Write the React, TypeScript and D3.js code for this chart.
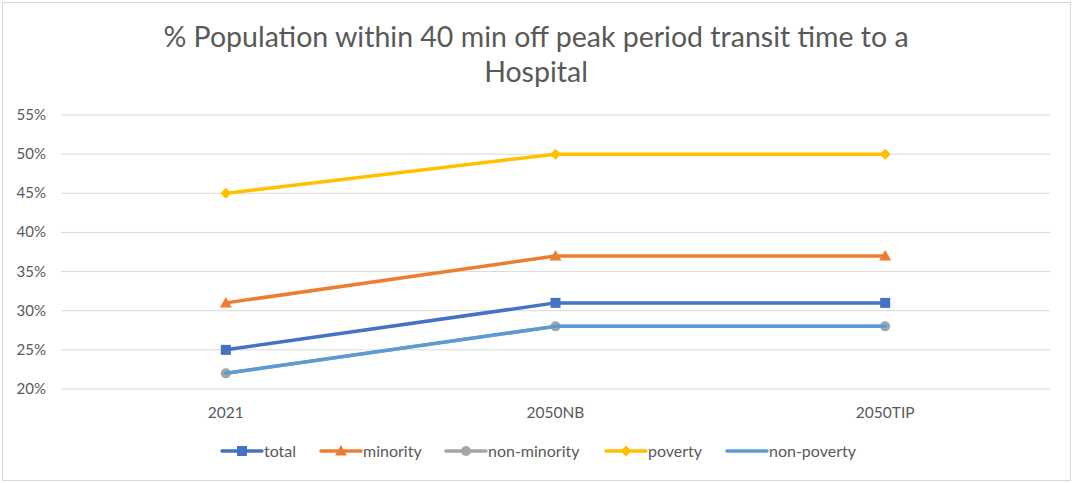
import React from "react";
import * as d3 from "d3";

const categories = ["2021", "2050NB", "2050TIP"];
const seriesNames = ["total", "minority", "non-minority", "poverty", "non-poverty"];
const total = [0.25, 0.31, 0.31];
const minority = [0.31, 0.37, 0.37];
const nonMinority = [0.22, 0.28, 0.28];
const poverty = [0.45, 0.50, 0.50];
const nonPoverty = [0.22, 0.28, 0.28];
const yTicks = [0.2, 0.25, 0.3, 0.35, 0.4, 0.45, 0.5, 0.55];
const titleLines = ["% Population within 40 min off peak period transit time to a", "Hospital"];

const colors = ["#4472C4", "#ED7D31", "#A5A5A5", "#FFC000", "#5B9BD5"];
const markers = ["square", "triangle", "circle", "diamond", "none"];
const values = [total, minority, nonMinority, poverty, nonPoverty];

const W = 1073, H = 483;
const left = 61, right = 1050, top = 115, bottom = 389;

function Marker({ type, x, y, color }: { type: string; x: number; y: number; color: string }) {
  if (type === "square") return <rect x={x - 5} y={y - 5} width={10} height={10} fill={color} />;
  if (type === "triangle") return <path d={`M${x},${y - 6}L${x + 6},${y + 4.5}L${x - 6},${y + 4.5}Z`} fill={color} />;
  if (type === "circle") return <circle cx={x} cy={y} r={5} fill={color} />;
  if (type === "diamond") return <path d={`M${x},${y - 5.5}L${x + 5.5},${y}L${x},${y + 5.5}L${x - 5.5},${y}Z`} fill={color} />;
  return null;
}

export default function App() {
  const x = d3.scaleBand<string>().domain(categories).range([left, right]);
  const y = d3.scaleLinear().domain([0.2, 0.55]).range([bottom, top]);
  const cx = (c: string) => (x(c) as number) + x.bandwidth() / 2;
  const line = d3.line<number>().x((_, i) => cx(categories[i])).y((v) => y(v));
  const fmt = d3.format(".0%");
  const font = "Lato, sans-serif";
  const legendX = [222, 321, 446, 606, 727];

  return (
    <svg width={W} height={H} style={{ position: "absolute", left: 0, top: 0 }} fontFamily={font}>
      <rect x={0} y={0} width={W} height={H} fill="#fff" />
      <rect x={2.5} y={2.5} width={W - 5} height={H - 5} fill="none" stroke="#d9d9d9" strokeWidth={1} />
      {titleLines.map((t, i) => (
        <text key={i} x={536} y={47 + i * 35} textAnchor="middle" fontSize={28.5} fill="#595959">{t}</text>
      ))}
      {yTicks.map((t) => (
        <g key={t}>
          <line x1={left} x2={right} y1={y(t)} y2={y(t)} stroke="#d9d9d9" strokeWidth={1} />
          <text x={46} y={y(t) + 5} textAnchor="end" fontSize={15} fill="#595959">{fmt(t)}</text>
        </g>
      ))}
      {categories.map((c) => (
        <text key={c} x={cx(c)} y={418} textAnchor="middle" fontSize={15.5} fill="#595959">{c}</text>
      ))}
      {values.map((vals, si) => (
        <g key={si}>
          <path d={line(vals) || ""} fill="none" stroke={colors[si]} strokeWidth={3.5} strokeLinejoin="round" strokeLinecap="round" />
          {vals.map((v, i) => (
            <Marker key={i} type={markers[si]} x={cx(categories[i])} y={y(v)} color={colors[si]} />
          ))}
        </g>
      ))}
      {seriesNames.map((n, i) => (
        <g key={n}>
          <line x1={legendX[i]} x2={legendX[i] + 40} y1={451} y2={451} stroke={colors[i]} strokeWidth={3.5} strokeLinecap="round" />
          <Marker type={markers[i]} x={legendX[i] + 20} y={451} color={colors[i]} />
          <text x={legendX[i] + 42} y={457} fontSize={16} fill="#595959">{n}</text>
        </g>
      ))}
    </svg>
  );
}
